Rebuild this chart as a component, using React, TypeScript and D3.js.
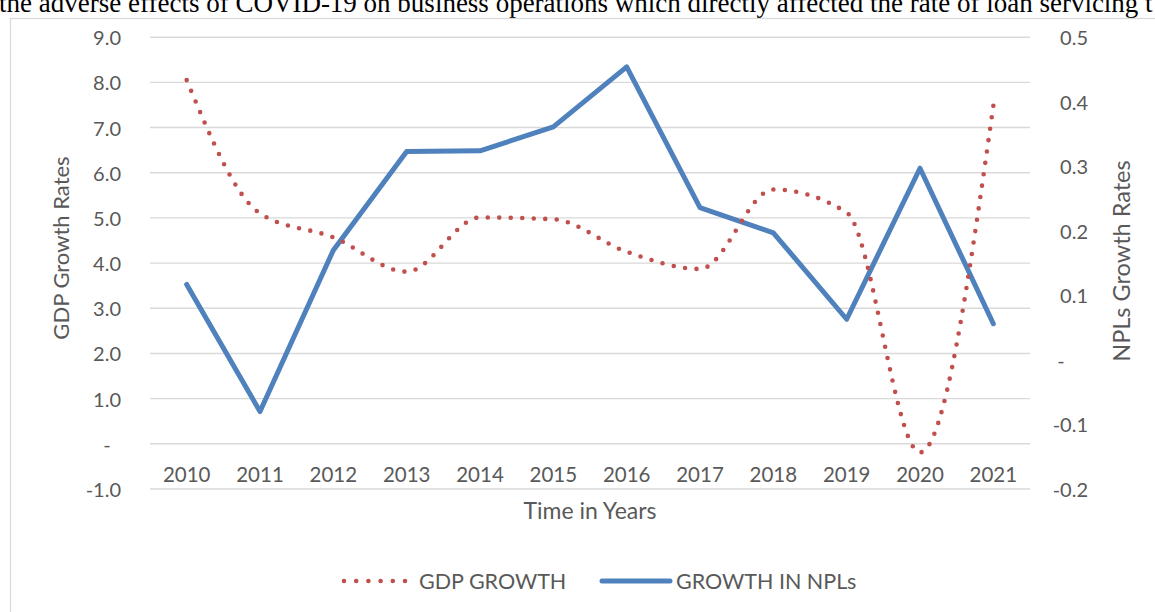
import React, { useLayoutEffect, useRef, useState } from 'react';
import * as d3 from 'd3';

// values
const years = ['2010', '2011', '2012', '2013', '2014', '2015', '2016', '2017', '2018', '2019', '2020', '2021'];
const gdpGrowth = [8.05, 5.1, 4.57, 3.81, 5.01, 4.97, 4.25, 3.87, 5.63, 5.12, -0.19, 7.48];
const nplGrowth = [0.117, -0.08, 0.17, 0.323, 0.324, 0.361, 0.454, 0.236, 0.197, 0.063, 0.297, 0.056];
const leftTicks = [-1, 0, 1, 2, 3, 4, 5, 6, 7, 8, 9];
const rightTicks = [-0.2, -0.1, 0, 0.1, 0.2, 0.3, 0.4, 0.5];

const W = 1155;
const H = 612;
const plot = { left: 150, right: 1030, top: 37.2, bottom: 489 };
const font = 'Lato, "Open Sans", sans-serif';
const textColor = '#595959';
const gridColor = '#d9d9d9';
const red = '#c0504d';
const blue = '#4f81bd';
const dotGap = 11.5;

// Excel-style number: hyphen minus, dash for zero
const fmt = (v: number) => (Math.abs(v) < 1e-9 ? '-' : d3.format('.1f')(v).replace('\u2212', '-'));

const App = () => {
  const gdpRef = useRef<SVGPathElement>(null);
  const [dots, setDots] = useState(0);

  const x = d3.scaleBand().domain(years).range([plot.left, plot.right]);
  const cx = (d: string) => (x(d) ?? 0) + x.bandwidth() / 2;
  const yL = d3.scaleLinear().domain([-1, 9]).range([plot.bottom, plot.top]);
  const yR = d3.scaleLinear().domain([-0.2, 0.5]).range([plot.bottom, plot.top]);

  const gdpLine = d3.line<number>()
    .x((_, i) => cx(years[i]))
    .y(d => yL(d))
    .curve(d3.curveMonotoneX);
  const nplLine = d3.line<number>()
    .x((_, i) => cx(years[i]))
    .y(d => yR(d));

  // make the round dots land on both ends of the dotted line
  useLayoutEffect(() => {
    if (gdpRef.current) {
      const len = gdpRef.current.getTotalLength();
      setDots(Math.round(len / dotGap));
    }
  }, []);

  return (
    <svg width={W} height={H} style={{ position: 'absolute', left: 0, top: 0, background: '#fff' }}>
      {/* cut-off line of body text above the figure */}
      <text x={-1} y={12} fontFamily='"Liberation Serif", serif' fontSize={27} fill="#000">
        the adverse effects of COVID-19 on business operations which directly affected the rate of loan servicing t
      </text>

      <rect x={10.5} y={18.5} width={1170} height={640} fill="#fff" stroke={gridColor} strokeWidth={1.3} />

      {/* gridlines */}
      {leftTicks.map(t => (
        <line key={t} x1={plot.left} x2={plot.right} y1={yL(t)} y2={yL(t)} stroke={gridColor} strokeWidth={1.4} />
      ))}

      {/* left axis labels */}
      {leftTicks.map(t => (
        <text key={t} x={t === 0 ? 107 : 121} y={yL(t)} textAnchor={t === 0 ? 'middle' : 'end'}
          dominantBaseline="central" fontFamily={font} fontSize={20} fill={textColor}>
          {fmt(t)}
        </text>
      ))}

      {/* right axis labels */}
      {rightTicks.map(t => (
        <text key={t} x={Math.abs(t) < 1e-9 ? 1061 : 1088} y={yR(t)} textAnchor={Math.abs(t) < 1e-9 ? 'middle' : 'end'}
          dominantBaseline="central" fontFamily={font} fontSize={20} fill={textColor}>
          {fmt(t)}
        </text>
      ))}

      {/* category labels */}
      {years.map(yr => (
        <text key={yr} x={cx(yr)} y={474} textAnchor="middle" dominantBaseline="central"
          fontFamily={font} fontSize={20.5} fill={textColor}>
          {yr}
        </text>
      ))}

      {/* axis titles */}
      <text transform="translate(60,248) rotate(-90)" textAnchor="middle" dominantBaseline="central"
        fontFamily={font} fontSize={22} fill={textColor}>GDP Growth Rates</text>
      <text transform="translate(1121,261) rotate(-90)" textAnchor="middle" dominantBaseline="central"
        fontFamily={font} fontSize={23.5} fill={textColor}>NPLs Growth Rates</text>
      <text x={590} y={510} textAnchor="middle" dominantBaseline="central"
        fontFamily={font} fontSize={23} fill={textColor}>Time in Years</text>

      {/* series */}
      <path d={nplLine(nplGrowth) ?? ''} fill="none" stroke={blue} strokeWidth={5} strokeLinejoin="round" strokeLinecap="round" />
      <path ref={gdpRef} d={gdpLine(gdpGrowth) ?? ''} fill="none" stroke={red} strokeWidth={4.6}
        pathLength={dots || undefined} strokeDasharray={dots ? '0 1' : `0 ${dotGap}`} strokeLinecap="round" />

      {/* legend */}
      <line x1={344} x2={406} y1={581} y2={581} stroke={red} strokeWidth={4.6} strokeDasharray="0 12.2" strokeLinecap="round" />
      <text x={419} y={581} dominantBaseline="central" fontFamily={font} fontSize={21.5} fill={textColor}>GDP GROWTH</text>
      <line x1={602} x2={670} y1={581} y2={581} stroke={blue} strokeWidth={5} strokeLinecap="round" />
      <text x={676} y={581} dominantBaseline="central" fontFamily={font} fontSize={21.5} fill={textColor}>GROWTH IN NPLs</text>
    </svg>
  );
};

export default App;
